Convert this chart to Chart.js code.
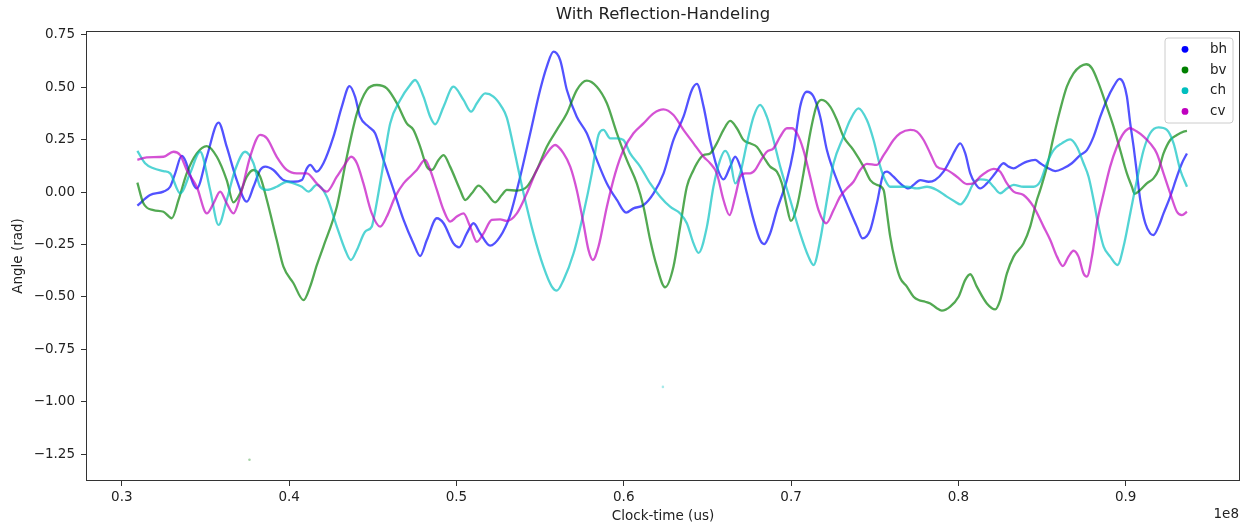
<!DOCTYPE html>
<html>
<head>
<meta charset="utf-8">
<script src="https://cdn.jsdelivr.net/npm/chart.js@4.4.0/dist/chart.umd.min.js"></script>
<style>
html,body{margin:0;padding:0;background:#ffffff;}
#wrap{width:1247px;height:531px;}
</style>
</head>
<body>
<div id="wrap"><canvas id="c" width="1247" height="531"></canvas></div>
<script>
// ---- data (clock-time in units of 1e8 us, angle in rad) ----
const seriesNames = ['bh', 'bv', 'ch', 'cv'];

const bhTime = [0.3093,0.3169,0.3249,0.3289,0.3319,0.3358,0.3448,0.3508,0.3578,0.3627,0.3687,0.3747,0.3787,0.3827,0.3857,0.3906,0.3966,0.4026,0.4076,0.4106,0.4126,0.4165,0.4205,0.4265,0.4315,0.4361,0.4394,0.4424,0.4474,0.4514,0.4564,0.4624,0.4684,0.4743,0.4783,0.4823,0.4883,0.4923,0.4982,0.5016,0.5062,0.5102,0.5142,0.5201,0.5261,0.5321,0.5381,0.5441,0.5500,0.5540,0.5580,0.5620,0.5660,0.5719,0.5779,0.5839,0.5899,0.5959,0.6014,0.6058,0.6118,0.6178,0.6238,0.6297,0.6357,0.6407,0.6437,0.6477,0.6516,0.6556,0.6596,0.6636,0.6666,0.6696,0.6736,0.6776,0.6815,0.6839,0.6875,0.6915,0.6975,0.7015,0.7054,0.7094,0.7134,0.7174,0.7214,0.7274,0.7333,0.7393,0.7427,0.7473,0.7513,0.7553,0.7573,0.7612,0.7652,0.7702,0.7732,0.7772,0.7822,0.7861,0.7911,0.7951,0.7981,0.8011,0.8041,0.8071,0.8100,0.8130,0.8170,0.8220,0.8270,0.8300,0.8330,0.8369,0.8409,0.8459,0.8489,0.8529,0.8579,0.8628,0.8678,0.8728,0.8768,0.8808,0.8848,0.8887,0.8927,0.8963,0.8987,0.9007,0.9027,0.9047,0.9067,0.9087,0.9117,0.9146,0.9166,0.9196,0.9226,0.9266,0.9306,0.9336,0.9366];
const bhAngle = [-0.065,-0.014,0.002,0.025,0.089,0.172,0.017,0.168,0.331,0.216,0.057,-0.046,0.025,0.105,0.121,0.105,0.057,0.049,0.057,0.113,0.129,0.097,0.137,0.264,0.407,0.505,0.455,0.359,0.312,0.280,0.153,0.010,-0.133,-0.245,-0.305,-0.229,-0.125,-0.149,-0.245,-0.264,-0.197,-0.149,-0.197,-0.256,-0.213,-0.110,0.073,0.280,0.486,0.598,0.669,0.629,0.486,0.359,0.280,0.153,0.041,-0.038,-0.098,-0.078,-0.062,-0.006,0.089,0.248,0.359,0.486,0.515,0.407,0.248,0.121,0.060,0.121,0.168,0.121,-0.006,-0.133,-0.229,-0.248,-0.197,-0.086,0.057,0.200,0.407,0.478,0.455,0.359,0.200,0.057,-0.054,-0.165,-0.221,-0.181,-0.054,0.089,0.097,0.073,0.041,0.017,0.034,0.057,0.049,0.057,0.097,0.153,0.200,0.232,0.184,0.089,0.041,0.017,0.041,0.089,0.137,0.121,0.113,0.129,0.145,0.153,0.137,0.117,0.100,0.113,0.137,0.176,0.200,0.264,0.359,0.439,0.502,0.539,0.518,0.455,0.327,0.216,0.089,-0.038,-0.149,-0.197,-0.205,-0.165,-0.102,-0.022,0.073,0.137,0.184];

const bvTime = [0.3093,0.3129,0.3189,0.3249,0.3299,0.3339,0.3388,0.3448,0.3508,0.3568,0.3627,0.3667,0.3707,0.3747,0.3787,0.3827,0.3867,0.3926,0.3966,0.4026,0.4086,0.4126,0.4165,0.4205,0.4285,0.4345,0.4405,0.4464,0.4524,0.4584,0.4644,0.4703,0.4743,0.4783,0.4823,0.4853,0.4893,0.4923,0.4962,0.5022,0.5052,0.5092,0.5132,0.5181,0.5231,0.5271,0.5301,0.5361,0.5421,0.5480,0.5540,0.5600,0.5660,0.5719,0.5779,0.5839,0.5899,0.5959,0.6018,0.6078,0.6118,0.6158,0.6198,0.6247,0.6297,0.6337,0.6377,0.6417,0.6437,0.6477,0.6516,0.6556,0.6596,0.6636,0.6676,0.6716,0.6755,0.6795,0.6835,0.6875,0.6915,0.6945,0.6975,0.6999,0.7035,0.7074,0.7114,0.7154,0.7184,0.7234,0.7274,0.7313,0.7373,0.7433,0.7473,0.7513,0.7553,0.7573,0.7592,0.7622,0.7652,0.7692,0.7732,0.7762,0.7802,0.7832,0.7871,0.7901,0.7951,0.8001,0.8041,0.8071,0.8110,0.8170,0.8220,0.8250,0.8290,0.8330,0.8389,0.8429,0.8469,0.8489,0.8529,0.8569,0.8608,0.8648,0.8688,0.8728,0.8764,0.8798,0.8838,0.8887,0.8927,0.8967,0.9007,0.9037,0.9053,0.9087,0.9126,0.9166,0.9196,0.9226,0.9266,0.9306,0.9346,0.9366];
const bvAngle = [0.045,-0.054,-0.086,-0.094,-0.125,-0.038,0.089,0.184,0.219,0.168,0.057,-0.049,-0.006,0.073,0.105,0.073,-0.038,-0.229,-0.356,-0.435,-0.515,-0.450,-0.350,-0.260,-0.070,0.168,0.375,0.486,0.510,0.494,0.423,0.327,0.296,0.216,0.121,0.105,0.153,0.176,0.121,0.010,-0.038,-0.006,0.030,-0.006,-0.049,-0.014,0.010,0.007,0.025,0.105,0.216,0.296,0.375,0.486,0.531,0.502,0.423,0.280,0.153,0.041,-0.070,-0.229,-0.356,-0.454,-0.356,-0.165,0.025,0.105,0.137,0.176,0.184,0.232,0.296,0.339,0.304,0.248,0.232,0.216,0.168,0.121,0.097,0.041,-0.070,-0.138,-0.070,0.089,0.280,0.415,0.439,0.407,0.343,0.264,0.200,0.121,0.057,0.034,0.010,-0.100,-0.210,-0.330,-0.410,-0.451,-0.499,-0.515,-0.523,-0.531,-0.554,-0.565,-0.546,-0.499,-0.419,-0.392,-0.451,-0.531,-0.559,-0.515,-0.388,-0.308,-0.245,-0.165,-0.038,0.010,0.121,0.264,0.391,0.502,0.566,0.598,0.609,0.590,0.518,0.407,0.312,0.200,0.089,0.025,-0.009,0.010,0.041,0.065,0.105,0.184,0.248,0.272,0.288,0.291];

const chTime = [0.3093,0.3139,0.3189,0.3249,0.3289,0.3349,0.3408,0.3468,0.3528,0.3578,0.3627,0.3677,0.3737,0.3787,0.3827,0.3867,0.3926,0.3986,0.4026,0.4076,0.4116,0.4165,0.4225,0.4285,0.4335,0.4369,0.4405,0.4454,0.4494,0.4504,0.4554,0.4604,0.4664,0.4723,0.4753,0.4803,0.4843,0.4873,0.4923,0.4982,0.5042,0.5088,0.5122,0.5172,0.5221,0.5271,0.5301,0.5341,0.5401,0.5460,0.5520,0.5570,0.5600,0.5640,0.5700,0.5759,0.5809,0.5849,0.5879,0.5919,0.5959,0.5998,0.6038,0.6098,0.6158,0.6218,0.6277,0.6337,0.6377,0.6417,0.6447,0.6497,0.6536,0.6576,0.6606,0.6636,0.6666,0.6696,0.6736,0.6776,0.6815,0.6855,0.6895,0.6935,0.6995,0.7054,0.7104,0.7134,0.7174,0.7214,0.7254,0.7313,0.7353,0.7403,0.7453,0.7493,0.7533,0.7562,0.7592,0.7632,0.7692,0.7752,0.7812,0.7871,0.7931,0.7981,0.8011,0.8051,0.8090,0.8130,0.8170,0.8210,0.8250,0.8290,0.8330,0.8389,0.8449,0.8489,0.8529,0.8569,0.8618,0.8668,0.8708,0.8748,0.8778,0.8808,0.8838,0.8868,0.8907,0.8951,0.8987,0.9027,0.9067,0.9107,0.9146,0.9196,0.9246,0.9286,0.9326,0.9366];
const chAngle = [0.196,0.137,0.113,0.100,0.089,-0.006,0.089,0.192,0.010,-0.157,-0.038,0.105,0.192,0.137,0.025,0.010,0.025,0.049,0.041,0.025,0.002,0.034,-0.022,-0.165,-0.276,-0.324,-0.276,-0.189,-0.165,-0.133,0.089,0.327,0.439,0.510,0.534,0.455,0.359,0.323,0.407,0.502,0.439,0.383,0.423,0.470,0.455,0.405,0.355,0.216,-0.006,-0.197,-0.356,-0.451,-0.470,-0.419,-0.292,-0.102,0.089,0.272,0.296,0.256,0.256,0.248,0.184,0.121,0.041,-0.022,-0.070,-0.102,-0.149,-0.245,-0.290,-0.165,0.025,0.153,0.196,0.153,0.041,0.089,0.232,0.359,0.415,0.359,0.248,0.121,-0.038,-0.197,-0.308,-0.348,-0.229,-0.038,0.137,0.264,0.343,0.399,0.343,0.248,0.121,0.057,0.025,0.025,0.025,0.017,0.025,0.010,-0.022,-0.046,-0.059,-0.022,0.041,0.060,0.057,0.025,-0.006,0.017,0.034,0.025,0.025,0.050,0.137,0.200,0.232,0.251,0.216,0.137,0.073,-0.038,-0.165,-0.260,-0.308,-0.348,-0.260,-0.102,0.057,0.200,0.280,0.308,0.296,0.232,0.105,0.025];

const cvTime = [0.3093,0.3149,0.3249,0.3309,0.3349,0.3388,0.3448,0.3508,0.3548,0.3588,0.3627,0.3667,0.3707,0.3767,0.3827,0.3867,0.3926,0.3986,0.4046,0.4106,0.4165,0.4225,0.4285,0.4325,0.4371,0.4405,0.4444,0.4494,0.4544,0.4584,0.4634,0.4684,0.4723,0.4763,0.4813,0.4843,0.4883,0.4923,0.4962,0.5002,0.5042,0.5082,0.5122,0.5162,0.5211,0.5261,0.5301,0.5361,0.5421,0.5480,0.5540,0.5590,0.5640,0.5680,0.5719,0.5759,0.5789,0.5815,0.5849,0.5899,0.5949,0.5998,0.6058,0.6118,0.6178,0.6237,0.6297,0.6357,0.6417,0.6477,0.6516,0.6556,0.6596,0.6632,0.6666,0.6696,0.6726,0.6755,0.6785,0.6815,0.6855,0.6895,0.6935,0.6975,0.7005,0.7035,0.7074,0.7114,0.7164,0.7210,0.7254,0.7293,0.7333,0.7373,0.7413,0.7453,0.7513,0.7553,0.7573,0.7612,0.7652,0.7712,0.7752,0.7792,0.7832,0.7871,0.7931,0.7991,0.8051,0.8090,0.8130,0.8170,0.8210,0.8250,0.8290,0.8330,0.8389,0.8449,0.8509,0.8549,0.8589,0.8624,0.8658,0.8688,0.8718,0.8748,0.8768,0.8798,0.8828,0.8868,0.8907,0.8947,0.8987,0.9027,0.9067,0.9107,0.9146,0.9186,0.9226,0.9266,0.9306,0.9336,0.9366];
const cvAngle = [0.153,0.165,0.168,0.192,0.176,0.105,0.025,-0.102,-0.054,0.002,-0.054,-0.102,-0.022,0.168,0.272,0.256,0.168,0.105,0.089,0.089,0.041,0.002,0.073,0.121,0.168,0.137,0.041,-0.102,-0.165,-0.117,-0.022,0.041,0.073,0.105,0.153,0.105,0.010,-0.086,-0.141,-0.117,-0.102,-0.165,-0.237,-0.197,-0.133,-0.130,-0.138,-0.102,-0.006,0.105,0.184,0.224,0.184,0.121,0.010,-0.149,-0.276,-0.324,-0.260,-0.070,0.089,0.200,0.280,0.327,0.375,0.394,0.367,0.296,0.232,0.168,0.137,0.089,-0.038,-0.110,-0.022,0.073,0.089,0.089,0.105,0.145,0.192,0.208,0.264,0.304,0.304,0.280,0.200,0.073,-0.086,-0.149,-0.086,-0.022,0.017,0.049,0.105,0.134,0.129,0.176,0.200,0.248,0.280,0.296,0.288,0.248,0.184,0.121,0.105,0.073,0.038,0.041,0.073,0.097,0.110,0.097,0.041,0.002,-0.014,-0.070,-0.165,-0.229,-0.308,-0.353,-0.308,-0.280,-0.308,-0.388,-0.403,-0.308,-0.149,-0.006,0.121,0.216,0.280,0.304,0.288,0.264,0.232,0.184,0.089,-0.006,-0.094,-0.110,-0.094];

// isolated stray samples
const bvStrayTime = [0.3763];
const bvStrayAngle = [-1.276];
const chStrayTime = [0.6234];
const chStrayAngle = [-0.929];

// axes
const xTicks = [0.3, 0.4, 0.5, 0.6, 0.7, 0.8, 0.9];
const yTicks = [-1.25, -1.00, -0.75, -0.50, -0.25, 0.00, 0.25, 0.50, 0.75];
const xLimits = [0.2786, 0.9683];
const yLimits = [-1.3775, 0.7675];
const titleText = 'With Reflection-Handeling';
const xLabel = 'Clock-time (us)';
const yLabel = 'Angle (rad)';
const xOffsetText = '1e8';

// ---- styling ----
const FONT = 'DejaVu Sans';
const TXT = '#222222';
const seriesColors = {
  bh: [0, 0, 255],
  bv: [0, 128, 0],
  ch: [0, 191, 191],
  cv: [191, 0, 191]
};
const rgba = (c, a) => 'rgba(' + c[0] + ',' + c[1] + ',' + c[2] + ',' + a + ')';
const pts = (t, a) => t.map((x, i) => ({ x: x, y: a[i] }));

function lineSet(name, t, a, order) {
  return {
    label: name,
    data: pts(t, a),
    showLine: true,
    borderColor: rgba(seriesColors[name], 0.68),
    backgroundColor: rgba(seriesColors[name], 0.68),
    borderWidth: 2.3,
    pointRadius: 0,
    cubicInterpolationMode: 'monotone',
    order: order
  };
}
function strayset(name, t, a) {
  return {
    label: name + ' stray',
    data: pts(t, a),
    showLine: false,
    pointRadius: 1.3,
    borderWidth: 0,
    backgroundColor: rgba(seriesColors[name], 0.35),
    order: 5
  };
}

const decorPlugin = {
  id: 'decor',
  afterDraw(chart) {
    const ctx = chart.ctx;
    const a = chart.chartArea;
    ctx.save();
    // frame (all four spines)
    ctx.strokeStyle = '#333333';
    ctx.lineWidth = 1;
    ctx.strokeRect(Math.round(a.left) + 0.5, Math.round(a.top) + 0.5,
                   Math.round(a.right - a.left) - 1, Math.round(a.bottom - a.top) - 1);
    // title
    ctx.fillStyle = TXT;
    ctx.font = '16.5px "' + FONT + '"';
    ctx.textAlign = 'center';
    ctx.textBaseline = 'middle';
    ctx.fillText(titleText, (a.left + a.right) / 2, 15);
    // offset text
    ctx.font = '13.5px "' + FONT + '"';
    ctx.textAlign = 'right';
    ctx.fillText(xOffsetText, a.right - 1, 514);
    // legend
    const bx = 1165, by = 38, bw = 68, bh = 85, r = 3;
    ctx.beginPath();
    ctx.moveTo(bx + r, by);
    ctx.lineTo(bx + bw - r, by);
    ctx.quadraticCurveTo(bx + bw, by, bx + bw, by + r);
    ctx.lineTo(bx + bw, by + bh - r);
    ctx.quadraticCurveTo(bx + bw, by + bh, bx + bw - r, by + bh);
    ctx.lineTo(bx + r, by + bh);
    ctx.quadraticCurveTo(bx, by + bh, bx, by + bh - r);
    ctx.lineTo(bx, by + r);
    ctx.quadraticCurveTo(bx, by, bx + r, by);
    ctx.closePath();
    ctx.fillStyle = 'rgba(255,255,255,0.8)';
    ctx.fill();
    ctx.strokeStyle = '#cccccc';
    ctx.stroke();
    ctx.textAlign = 'left';
    ctx.textBaseline = 'middle';
    seriesNames.forEach((n, i) => {
      const yy = 49.3 + i * 20.7;
      ctx.beginPath();
      ctx.arc(1185, yy, 3.4, 0, Math.PI * 2);
      ctx.fillStyle = rgba(seriesColors[n], 1);
      ctx.fill();
      ctx.fillStyle = TXT;
      ctx.fillText(n, 1210, yy);
    });
    ctx.restore();
  }
};

Chart.defaults.font.family = FONT;

new Chart(document.getElementById('c'), {
  type: 'scatter',
  data: {
    datasets: [
      lineSet('bh', bhTime, bhAngle, 4),
      lineSet('bv', bvTime, bvAngle, 3),
      lineSet('ch', chTime, chAngle, 2),
      lineSet('cv', cvTime, cvAngle, 1),
      strayset('bv', bvStrayTime, bvStrayAngle),
      strayset('ch', chStrayTime, chStrayAngle)
    ]
  },
  options: {
    responsive: false,
    animation: false,
    devicePixelRatio: 1,
    layout: { padding: { left: 0, right: 7, top: 31, bottom: 0 } },
    plugins: {
      legend: { display: false },
      title: { display: false },
      tooltip: { enabled: false }
    },
    scales: {
      x: {
        type: 'linear',
        min: xLimits[0],
        max: xLimits[1],
        afterFit(s) { s.height = 50; },
        afterBuildTicks(s) { s.ticks = xTicks.map(v => ({ value: v })); },
        ticks: {
          callback: v => Number(v).toFixed(1),
          font: { family: FONT, size: 13.5 },
          color: TXT,
          padding: 3.5,
          maxRotation: 0,
          autoSkip: false
        },
        grid: { drawOnChartArea: false, drawTicks: true, tickLength: 5, tickColor: '#333333', color: '#333333' },
        border: { display: false },
        title: {
          display: true,
          text: xLabel,
          font: { family: FONT, size: 13.5 },
          color: TXT,
          padding: { top: 0, bottom: 6 }
        }
      },
      y: {
        type: 'linear',
        min: yLimits[0],
        max: yLimits[1],
        afterFit(s) { s.width = 86; },
        afterBuildTicks(s) { s.ticks = yTicks.map(v => ({ value: v })); },
        ticks: {
          callback: v => (v < 0 ? '\u2212' : '') + Math.abs(v).toFixed(2),
          font: { family: FONT, size: 13.5 },
          color: TXT,
          padding: 6,
          autoSkip: false
        },
        grid: { drawOnChartArea: false, drawTicks: true, tickLength: 5, tickColor: '#333333', color: '#333333' },
        border: { display: false },
        title: {
          display: true,
          text: yLabel,
          font: { family: FONT, size: 13.5 },
          color: TXT,
          padding: { top: 10.5, bottom: 0 }
        }
      }
    }
  },
  plugins: [decorPlugin]
});
</script>
</body>
</html>
